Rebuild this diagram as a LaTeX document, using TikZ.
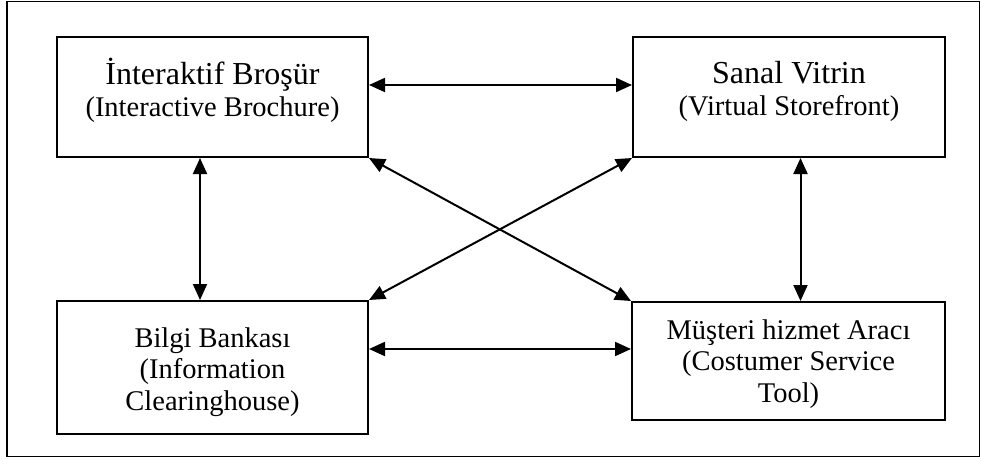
\documentclass[tikz,border=0pt]{standalone}
\usepackage{fontspec}
\setmainfont{Liberation Serif}
\usetikzlibrary{arrows.meta}
\begin{document}
\begin{tikzpicture}[x=1pt,y=-1pt,
  frame/.style={draw=black,line width=1.4pt},
  box/.style={draw=black,line width=2pt,inner sep=0pt,minimum width=#1},
  lbl/.style={align=center,inner sep=0pt,font=\fontsize{28.5}{31.5}\selectfont},
  title/.style={font=\fontsize{32}{35}\selectfont},
  link/.style={line width=2pt,{Triangle[length=16pt,width=14pt]}-{Triangle[length=16pt,width=14pt]}}]
  \useasboundingbox (0,0) rectangle (981,458);
  \draw[frame] (7,1.5) rectangle (979.5,456.5);

  % the four boxes
  \node[box=311pt,minimum height=120pt] (tl) at (212.5,97) {};
  \node[box=312pt,minimum height=120pt] (tr) at (789,97) {};
  \node[box=311pt,minimum height=133pt] (bl) at (212.5,367.5) {};
  \node[box=313pt,minimum height=118pt] (br) at (788.5,361) {};

  % their texts (anchored at the baseline of the last line)
  \node[lbl,anchor=base] (tlt) at (212.5,116) {{\fontsize{32}{35}\selectfont İnteraktif Broşür}\\(Interactive Brochure)};
  \node[lbl,anchor=base] (trt) at (789,115) {{\fontsize{32}{35}\selectfont Sanal Vitrin}\\(Virtual Storefront)};
  \node[lbl,anchor=base] (blt) at (212.5,410) {Bilgi Bankası\\(Information\\Clearinghouse)};
  \node[lbl,anchor=base] (brt) at (788.5,402) {Müşteri hizmet Aracı\\(Costumer Service\\Tool)};

  % connectors
  \draw[link] ([yshift=12pt]tl.east) -- ([yshift=12pt]tl.east -| tr.west);
  \draw[link] ([yshift=18.5pt]bl.east) -- ([yshift=18.5pt]bl.east -| br.west);
  \draw[link] ([xshift=-12.5pt]tl.south) -- ([xshift=-12.5pt]tl.south |- bl.north);
  \draw[link] ([xshift=11.5pt]tr.south) -- ([xshift=11.5pt]tr.south |- br.north);
  \draw[link] (tl.south east) -- (br.north west);
  \draw[link] (tr.south west) -- (bl.north east);
\end{tikzpicture}
\end{document}
